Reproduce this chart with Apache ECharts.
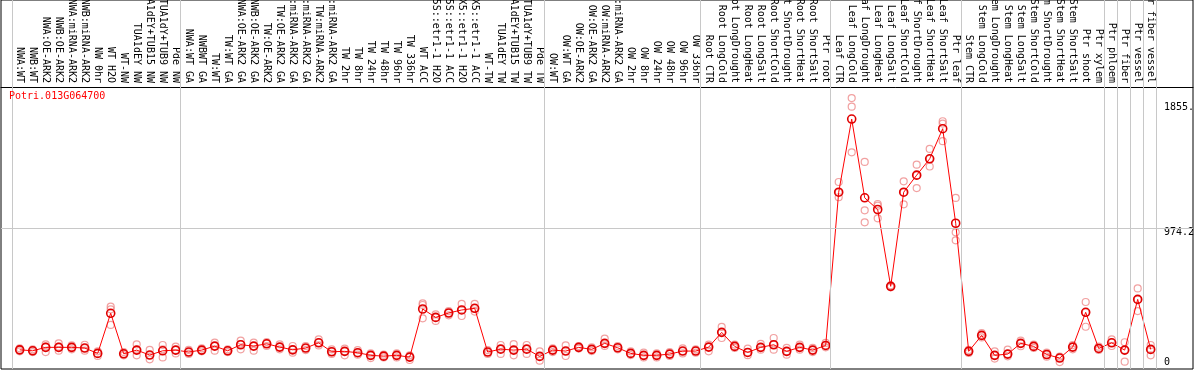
<!DOCTYPE html>
<html>
<head>
<meta charset="utf-8">
<script src="https://cdn.jsdelivr.net/npm/echarts@6/dist/echarts.min.js"></script>
<style>
  html, body { margin: 0; padding: 0; background: #fff; }
  #chart { width: 1194px; height: 370px; }
</style>
</head>
<body>
<div id="chart"></div>
<script>
const geneName = 'Potri.013G064700';

const categories = [
  'NWA:WT', 'NWB:WT', 'NWA:OE-ARK2', 'NWB:OE-ARK2', 'NWA:miRNA-ARK2', 'NWB:miRNA-ARK2',
  'NW 0hr', 'WT H2O', 'WT-NW', 'TUA1dEY NW', 'TUA1dEY+TUB15 NW', 'TUA1dY+TUB9 NW', 'Pde NW',
  'NWA:WT GA', 'NWBWT GA', 'TW:WT', 'TW:WT GA', 'NWA:OE-ARK2 GA', 'NWB:OE-ARK2 GA',
  'TW:OE-ARK2', 'TW:OE-ARK2 GA', 'NWA:miRNA-ARK2 GA', 'NWB:miRNA-ARK2 GA', 'TW:miRNA-ARK2',
  'TW:miRNA-ARK2 GA', 'TW 2hr', 'TW 8hr', 'TW 24hr', 'TW 48hr', 'TW 96hr', 'TW 336hr', 'WT ACC',
  '35S::etr1-1 H2O', '35S::etr1-1 ACC', 'LMX5::etr1-1 H2O', 'LMX5::etr1-1 ACC', 'WT-TW',
  'TUA1dEY TW', 'TUA1dEY+TUB15 TW', 'TUA1dY+TUB9 TW', 'Pde TW',
  'OW:WT', 'OW:WT GA', 'OW:OE-ARK2', 'OW:OE-ARK2 GA', 'OW:miRNA-ARK2', 'OW:miRNA-ARK2 GA',
  'OW 2hr', 'OW 8hr', 'OW 24hr', 'OW 48hr', 'OW 96hr', 'OW 336hr',
  'Root CTR', 'Root LongCold', 'Root LongDrought', 'Root LongHeat', 'Root LongSalt',
  'Root ShortCold', 'Root ShortDrought', 'Root ShortHeat', 'Root ShortSalt', 'Ptr root',
  'Leaf CTR', 'Leaf LongCold', 'Leaf LongDrought', 'Leaf LongHeat', 'Leaf LongSalt',
  'Leaf ShortCold', 'Leaf ShortDrought', 'Leaf ShortHeat', 'Leaf ShortSalt', 'Ptr leaf',
  'Stem CTR', 'Stem LongCold', 'Stem LongDrought', 'Stem LongHeat', 'Stem LongSalt',
  'Stem ShortCold', 'Stem ShortDrought', 'Stem ShortHeat', 'Stem ShortSalt', 'Ptr shoot',
  'Ptr xylem', 'Ptr phloem', 'Ptr fiber', 'Ptr vessel', 'Ptr fiber vessel'
];

// mean expression per sample
const meanValues = [
  90, 83, 108, 108, 108, 103, 64, 356, 61, 88, 52, 83, 88,
  74, 88, 117, 83, 127, 117, 134, 110, 90, 103, 141, 76, 79, 69, 50, 44, 50, 37,
  387, 326, 358, 380, 392, 74, 95, 88, 95, 42,
  88, 81, 108, 93, 137, 105, 64, 50, 50, 59, 81, 81,
  110, 217, 115, 71, 108, 127, 79, 108, 88, 122,
  1237, 1769, 1196, 1111, 552, 1237, 1361, 1480, 1699, 1011,
  79, 195, 50, 59, 137, 115, 56, 30, 110, 363,
  100, 141, 88, 457, 93
];

// replicates
const rep1 = [
  101, 94, 130, 137, 122, 127, 79, 404, 74, 130, 89, 125, 113,
  89, 101, 142, 94, 157, 142, 147, 130, 118, 118, 166, 94, 99, 88, 64, 55, 64, 50,
  428, 348, 372, 424, 424, 88, 125, 132, 125, 79,
  101, 123, 118, 108, 171, 118, 79, 69, 64, 74, 101, 94,
  128, 257, 128, 99, 133, 176, 104, 128, 104, 140,
  1311, 1922, 1457, 1151, 559, 1316, 1437, 1552, 1753, 1195,
  89, 212, 79, 91, 157, 128, 69, 40, 125, 438,
  113, 166, 145, 537, 125
];
const rep2 = [
  89, 84, 113, 113, 108, 103, 64, 385, 60, 89, 52, 94, 89,
  74, 89, 118, 84, 132, 118, 135, 111, 94, 103, 142, 77, 80, 69, 50, 45, 50, 38,
  416, 326, 358, 380, 392, 74, 96, 88, 96, 43,
  88, 81, 108, 94, 137, 106, 64, 50, 50, 60, 81, 84,
  111, 217, 116, 72, 108, 128, 79, 108, 89, 123,
  1236, 1859, 1105, 1139, 552, 1236, 1359, 1480, 1736, 945,
  79, 195, 50, 60, 137, 116, 55, 30, 111, 362,
  101, 142, 89, 457, 94
];
const rep3 = [
  79, 74, 74, 84, 94, 84, 45, 271, 50, 50, 21, 35, 64,
  60, 79, 84, 74, 94, 84, 118, 94, 69, 88, 122, 60, 50, 55, 30, 35, 35, 16,
  319, 300, 341, 336, 368, 60, 60, 50, 60, 11,
  74, 45, 99, 81, 118, 94, 52, 35, 35, 45, 64, 69,
  79, 176, 104, 51, 91, 91, 55, 91, 74, 108,
  1200, 1527, 1018, 1047, 545, 1149, 1267, 1424, 1608, 887,
  67, 180, 26, 43, 116, 104, 40, 1, 94, 258,
  89, 118, 4, 372, 50
];

// last sample index of each block (-1 = before the first)
const groupEnds = [-1, 12, 40, 52, 62, 72, 83, 84, 85, 86, 87];
const yTickValues = [0, 974.2, 1855.4];
const midLine = 974.2;

const mono = 'DejaVu Sans Mono';
const myChart = echarts.init(document.getElementById('chart'));

const repData = [];
[rep1, rep2, rep3].forEach(arr => arr.forEach((v, i) => repData.push([i, v])));

const option = {
  animation: false,
  title: {
    text: geneName,
    left: 9,
    top: 91,
    padding: 0,
    textStyle: { color: '#ff0000', fontFamily: mono, fontSize: 10, fontWeight: 'normal' }
  },
  grid: {
    left: 1, right: 1, top: 0, bottom: 1,
    outerBoundsMode: 'none',
    containLabel: false,
    show: true, borderColor: '#000', borderWidth: 1
  },
  xAxis: {
    type: 'value',
    position: 'top',
    offset: -87,
    min: -1.4385,
    max: 90.254,
    axisLine: { show: true, onZero: false, lineStyle: { color: '#000', width: 1 } },
    axisTick: { show: false },
    splitLine: { show: false },
    axisLabel: {
      customValues: categories.map((c, i) => i),
      formatter: v => categories[v] || '',
      rotate: 90,
      margin: 4,
      padding: [0, 0, 7, 0],
      fontFamily: mono,
      fontSize: 10,
      color: '#000'
    }
  },
  yAxis: {
    type: 'value',
    position: 'right',
    offset: -30,
    min: -49.5,
    max: 2635.4,
    axisLine: { show: false },
    axisTick: { show: false },
    splitLine: { show: false },
    axisLabel: {
      customValues: yTickValues,
      formatter: v => (v === midLine ? '{g|' + v + '}' : String(v)),
      margin: 1,
      fontFamily: mono,
      fontSize: 10,
      color: '#000',
      rich: {
        g: { fontFamily: mono, fontSize: 10, color: '#000', padding: [8, 0, 0, 0] }
      }
    }
  },
  series: [
    {
      type: 'scatter',
      data: repData,
      symbol: 'circle',
      symbolSize: 7,
      itemStyle: { color: 'rgba(0,0,0,0)', borderColor: '#ee8a8a', borderWidth: 1.2 },
      z: 2,
      markLine: {
        silent: true,
        symbol: ['none', 'none'],
        label: { show: false },
        lineStyle: { color: '#c8c8c8', width: 1, type: 'solid' },
        data: groupEnds.map(k => ({ xAxis: k + 0.385 })).concat([{ yAxis: midLine }])
      }
    },
    {
      type: 'line',
      data: meanValues.map((v, i) => [i, v]),
      symbol: 'circle',
      symbolSize: 8,
      showAllSymbol: true,
      lineStyle: { color: '#ff0000', width: 1 },
      itemStyle: { color: 'rgba(0,0,0,0)', borderColor: '#e00000', borderWidth: 1.6 },
      z: 3
    }
  ]
};
myChart.setOption(option);
</script>
</body>
</html>
